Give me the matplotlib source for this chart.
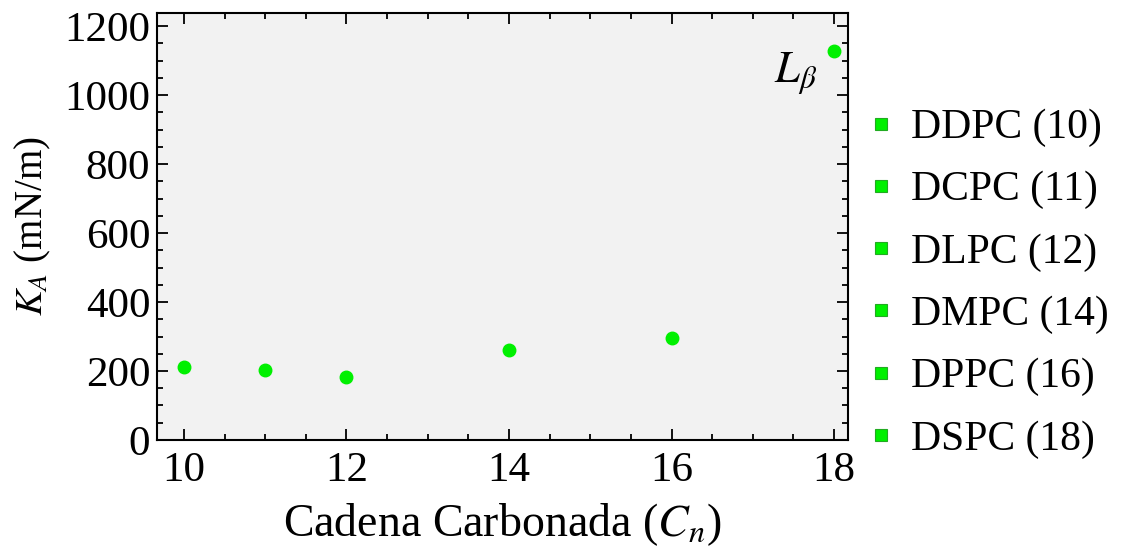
import numpy as np
import matplotlib
matplotlib.use('Agg')
import matplotlib.pyplot as plt
from matplotlib.ticker import MultipleLocator

# data
lipids = ['DDPC (10)', 'DCPC (11)', 'DLPC (12)', 'DMPC (14)', 'DPPC (16)', 'DSPC (18)']
carbons = [10, 11, 12, 14, 16, 18]
ka = [212, 203, 183, 261, 296, 1127]

green = '#00f000'

plt.rcParams['font.family'] = ['Liberation Serif', 'DejaVu Serif']
plt.rcParams['mathtext.fontset'] = 'stix'

fig = plt.figure(figsize=(11.3, 5.54), dpi=100)
ax = fig.add_axes([0.139, 0.2058, 0.6114, 0.7707])
ax.set_facecolor('#f2f2f2')

for name, c, k in zip(lipids, carbons, ka):
    ax.plot([c], [k], 'o', color=green, markersize=9, label=name)

ax.set_xlim(9.67, 18.17)
ax.set_ylim(0, 1238)
ax.xaxis.set_major_locator(MultipleLocator(2))
ax.xaxis.set_minor_locator(MultipleLocator(0.5))
ax.yaxis.set_major_locator(MultipleLocator(200))
ax.yaxis.set_minor_locator(MultipleLocator(50))
ax.tick_params(which='both', direction='in', top=True, right=True, width=1.3, labelsize=31)
ax.tick_params(which='major', length=8)
ax.tick_params(which='minor', length=4)
ax.tick_params(axis='x', pad=8)
ax.tick_params(axis='y', pad=5)
for s in ax.spines.values():
    s.set_linewidth(1.5)

ax.set_xlabel('Cadena Carbonada ($C_n$)', fontsize=33, labelpad=8)
ax.set_ylabel('$K_A$ (mN/m)', fontsize=28, labelpad=8)

ax.text(17.53, 1065, r'$L_\beta$', fontsize=32, ha='center', va='center')

handles = [plt.Line2D([], [], marker='s', linestyle='none', markersize=9,
                      markerfacecolor=green, markeredgecolor='#22aa22', markeredgewidth=0.8)
           for _ in lipids]
fig.legend(handles, lipids, loc='upper left', bbox_to_anchor=(0.754, 0.834),
           frameon=False, fontsize=30, handlelength=0.6, handletextpad=0.42,
           labelspacing=0.57, borderaxespad=0)

fig.savefig('out.png', dpi=100)
